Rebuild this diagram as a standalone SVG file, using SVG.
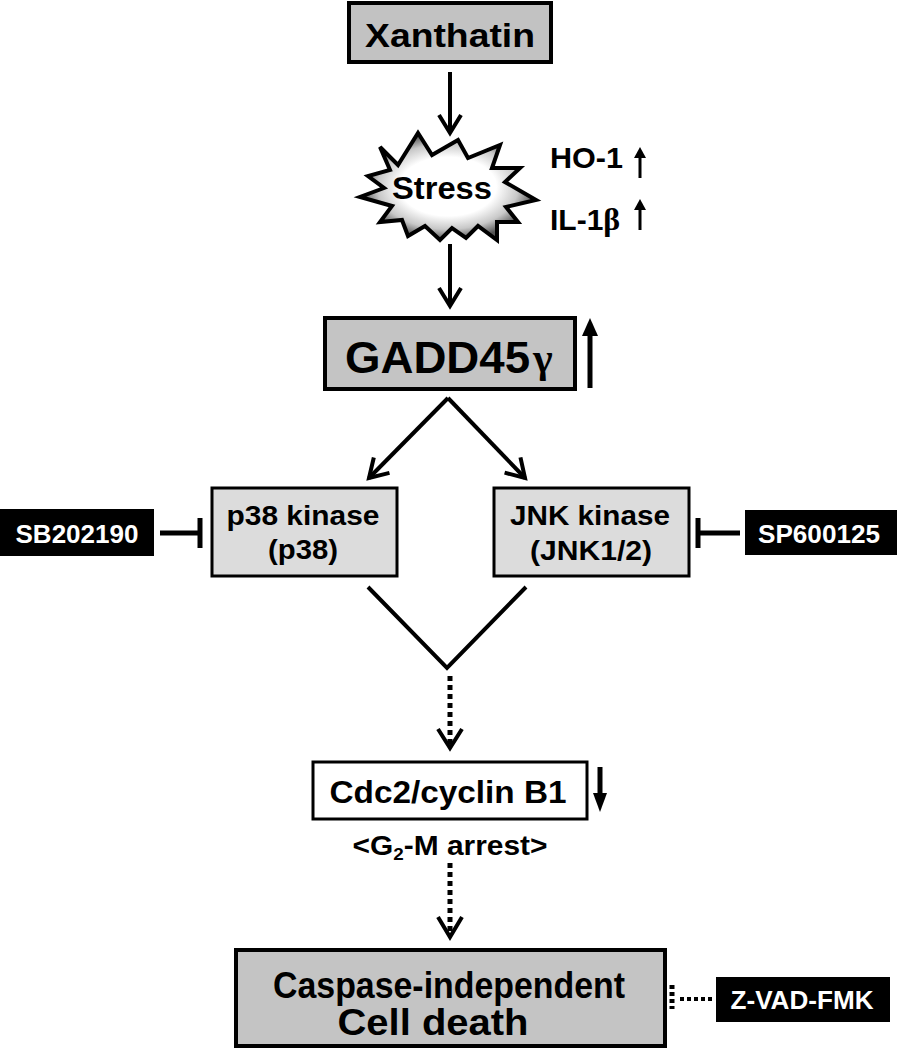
<svg xmlns="http://www.w3.org/2000/svg" width="897" height="1050" viewBox="0 0 897 1050">
<style>
.t{font-family:"Liberation Sans",Arial,Helvetica,sans-serif;font-weight:bold;fill:#000}
.w{font-family:"Liberation Sans",Arial,Helvetica,sans-serif;font-weight:bold;fill:#fff}
.g{font-family:"Liberation Serif","Times New Roman",serif;fill:#000}
.box{stroke:#000;stroke-width:4}
.kbox{fill:#dcdcdc;stroke:#000;stroke-width:3}
.blk{fill:#000}
.ln{stroke:#000;stroke-width:4;fill:none}
.dot{stroke:#000;stroke-width:5;fill:none;stroke-dasharray:5 4}
</style>
<defs>
<marker id="ah" markerWidth="1" markerHeight="1" overflow="visible" orient="auto" markerUnits="userSpaceOnUse">
<path d="M-18,-11 L0,0 L-18,11" fill="none" stroke="#000" stroke-width="4"/>
</marker>
<radialGradient id="sg" cx="0.5" cy="0.5" r="0.5">
<stop offset="0" stop-color="#fff"/>
<stop offset="0.55" stop-color="#fff"/>
<stop offset="0.8" stop-color="#c8c8c8"/>
<stop offset="1" stop-color="#555"/>
</radialGradient>
</defs>
<rect width="897" height="1050" fill="#fff"/>

<g id="connectors">
<line class="ln" x1="450" y1="72" x2="450" y2="133" marker-end="url(#ah)"/>
<line class="ln" x1="450" y1="244" x2="450" y2="306" marker-end="url(#ah)"/>
<line class="ln" x1="448" y1="398" x2="369" y2="478" marker-end="url(#ah)"/>
<line class="ln" x1="448" y1="398" x2="525" y2="478" marker-end="url(#ah)"/>
<polyline class="ln" points="368,587 447,668 526,587"/>
<line class="dot" x1="450" y1="676" x2="450" y2="748"/>
<path d="M438,729 L450,748 L462,729" fill="none" stroke="#000" stroke-width="4"/>
<line class="dot" x1="450" y1="863" x2="450" y2="936"/>
<path d="M438,917 L450,937 L462,917" fill="none" stroke="#000" stroke-width="4"/>
<line stroke="#000" stroke-width="5" x1="160" y1="533" x2="200" y2="533"/>
<line stroke="#000" stroke-width="5" x1="200" y1="518" x2="200" y2="548"/>
<line stroke="#000" stroke-width="5" x1="740" y1="533" x2="698" y2="533"/>
<line stroke="#000" stroke-width="5" x1="698" y1="518" x2="698" y2="548"/>
<line stroke="#000" stroke-width="4" stroke-dasharray="4 3" x1="680" y1="999" x2="714" y2="999"/>
<line stroke="#000" stroke-width="5" stroke-dasharray="4 3" x1="672" y1="985" x2="672" y2="1009"/>
</g>

<g id="xanthatin">
<rect class="box" x="349" y="3" width="202" height="59" fill="#c2c2c2"/>
<text class="t" x="450" y="47" font-size="33" text-anchor="middle" textLength="170" lengthAdjust="spacingAndGlyphs">Xanthatin</text>
</g>

<g id="stress">
<polygon points="380,147 398,165 418,133 432,155 458,140 468,158 500,145 492,168 520,168 505,182 536,200 506,207 518,222 497,222 497,240 478,226 466,238 452,228 440,240 425,226 408,236 402,220 380,222 392,206 360,197 384,188 368,176 390,170" fill="url(#sg)" stroke="#000" stroke-width="4" stroke-linejoin="miter"/>
<text class="t" x="442" y="199" font-size="31" text-anchor="middle" textLength="100" lengthAdjust="spacingAndGlyphs">Stress</text>
</g>

<g id="ho1">
<text class="t" x="550" y="168" font-size="30" textLength="73" lengthAdjust="spacingAndGlyphs">HO-1</text>
<line stroke="#000" stroke-width="3" x1="640" y1="178" x2="640" y2="156"/>
<polygon points="634,158 640,147 646,158" fill="#000"/>
</g>

<g id="il1b">
<text class="t" x="550" y="230" font-size="30">IL-1<tspan class="g" font-weight="bold" font-size="32">β</tspan></text>
<line stroke="#000" stroke-width="3" x1="640" y1="230" x2="640" y2="208"/>
<polygon points="634,210 640,199 646,210" fill="#000"/>
</g>

<g id="gadd45">
<rect class="box" x="325" y="318" width="250" height="71" fill="#c4c4c4"/>
<text class="t" x="345" y="373" font-size="45" textLength="185" lengthAdjust="spacingAndGlyphs">GADD45</text>
<text class="g" x="533" y="372" font-size="42" font-weight="bold">γ</text>
<line stroke="#000" stroke-width="5" x1="590" y1="388" x2="590" y2="332"/>
<polygon points="582,336 590,318 598,336" fill="#000"/>
</g>

<g id="p38">
<rect class="kbox" x="212" y="488" width="185" height="88"/>
<text class="t" x="303" y="525" font-size="27" text-anchor="middle" textLength="153" lengthAdjust="spacingAndGlyphs">p38 kinase</text>
<text class="t" x="303" y="559" font-size="27" text-anchor="middle" textLength="70" lengthAdjust="spacingAndGlyphs">(p38)</text>
</g>

<g id="jnk">
<rect class="kbox" x="494" y="488" width="195" height="88"/>
<text class="t" x="590" y="525" font-size="27" text-anchor="middle" textLength="160" lengthAdjust="spacingAndGlyphs">JNK kinase</text>
<text class="t" x="591" y="560" font-size="27" text-anchor="middle" textLength="122" lengthAdjust="spacingAndGlyphs">(JNK1/2)</text>
</g>

<g id="sb202190">
<rect class="blk" x="0" y="509" width="154" height="47"/>
<text class="w" x="77" y="543" font-size="26" text-anchor="middle" textLength="123" lengthAdjust="spacingAndGlyphs">SB202190</text>
</g>

<g id="sp600125">
<rect class="blk" x="745" y="510" width="152" height="45"/>
<text class="w" x="819" y="543" font-size="26" text-anchor="middle" textLength="122" lengthAdjust="spacingAndGlyphs">SP600125</text>
</g>

<g id="cdc2">
<rect x="313" y="762" width="274" height="57" fill="#fff" stroke="#000" stroke-width="3"/>
<text class="t" x="448" y="803" font-size="32" text-anchor="middle" textLength="237" lengthAdjust="spacingAndGlyphs">Cdc2/cyclin B1</text>
<line stroke="#000" stroke-width="5" x1="600" y1="767" x2="600" y2="797"/>
<polygon points="593,793 600,812 607,793" fill="#000"/>
<text class="t" x="450" y="855" font-size="27" text-anchor="middle" textLength="195" lengthAdjust="spacingAndGlyphs">&lt;G<tspan font-size="17" dy="5">2</tspan><tspan dy="-5">-M arrest&gt;</tspan></text>
</g>

<g id="celldeath">
<rect class="box" x="236" y="950" width="429" height="96" fill="#c4c4c4"/>
<text class="t" x="449" y="998" font-size="36" text-anchor="middle" textLength="352" lengthAdjust="spacingAndGlyphs">Caspase-independent</text>
<text class="t" x="433" y="1035" font-size="36" text-anchor="middle" textLength="191" lengthAdjust="spacingAndGlyphs">Cell death</text>
</g>

<g id="zvad">
<rect class="blk" x="716" y="977" width="174" height="45"/>
<text class="w" x="802" y="1009" font-size="25" text-anchor="middle" textLength="143" lengthAdjust="spacingAndGlyphs">Z-VAD-FMK</text>
</g>
</svg>
